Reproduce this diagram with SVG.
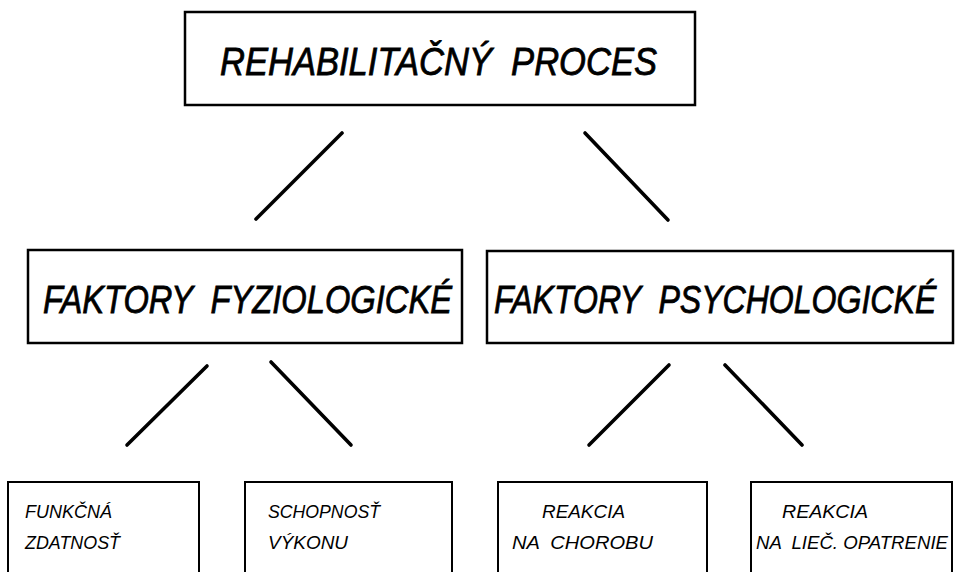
<svg xmlns="http://www.w3.org/2000/svg" width="955" height="572" viewBox="0 0 955 572">
<style>
.box{fill:#fff;stroke:#000;stroke-width:2.5}
.sbox{fill:#fff;stroke:#000;stroke-width:2}
text{white-space:pre}
.big{font-family:"Liberation Sans",Arial,sans-serif;font-style:italic;font-size:39px;fill:#000;stroke:#000;stroke-width:0.8}
.small{font-family:"Liberation Sans",Arial,sans-serif;font-style:italic;font-size:19px;fill:#000}
.conn line{stroke:#000;stroke-width:3.6;stroke-linecap:round}
</style>
<rect width="955" height="572" fill="#fff"/>
<g class="conn" id="connectors">
<line x1="342" y1="133" x2="256" y2="219"/>
<line x1="585" y1="133" x2="668" y2="220"/>
<line x1="207" y1="366" x2="127" y2="445"/>
<line x1="271" y1="362" x2="351" y2="445"/>
<line x1="669" y1="365" x2="589" y2="445"/>
<line x1="725" y1="365" x2="802" y2="445"/>
</g>
<g id="node-root">
<rect class="box" x="185" y="12" width="510" height="93"/>
<text class="big" x="220" y="75" textLength="437" lengthAdjust="spacingAndGlyphs">REHABILITAČNÝ  PROCES</text>
</g>
<g id="node-fyz">
<rect class="box" x="28" y="250" width="434" height="93"/>
<text class="big" x="43" y="313" textLength="409" lengthAdjust="spacingAndGlyphs">FAKTORY  FYZIOLOGICKÉ</text>
</g>
<g id="node-psy">
<rect class="box" x="487" y="251" width="466" height="92"/>
<text class="big" transform="translate(494 313) scale(0.822 1)">FAKTORY  PSYCHOLOGICKÉ</text>
</g>
<g id="node-funkcna">
<rect class="sbox" x="8" y="482" width="191" height="110"/>
<text class="small" x="25" y="518" textLength="87" lengthAdjust="spacingAndGlyphs">FUNKČNÁ</text>
<text class="small" x="25" y="549" textLength="95" lengthAdjust="spacingAndGlyphs">ZDATNOSŤ</text>
</g>
<g id="node-schopnost">
<rect class="sbox" x="245" y="482" width="207" height="110"/>
<text class="small" x="268" y="518" textLength="112" lengthAdjust="spacingAndGlyphs">SCHOPNOSŤ</text>
<text class="small" x="268" y="549" textLength="80" lengthAdjust="spacingAndGlyphs">VÝKONU</text>
</g>
<g id="node-chorobu">
<rect class="sbox" x="498" y="482" width="209" height="110"/>
<text class="small" x="542" y="518" textLength="83" lengthAdjust="spacingAndGlyphs">REAKCIA</text>
<text class="small" x="512" y="549" textLength="141" lengthAdjust="spacingAndGlyphs">NA  CHOROBU</text>
</g>
<g id="node-opatrenie">
<rect class="sbox" x="751" y="482" width="201" height="110"/>
<text class="small" x="782" y="518" textLength="86" lengthAdjust="spacingAndGlyphs">REAKCIA</text>
<text class="small" x="756" y="549" textLength="192" lengthAdjust="spacingAndGlyphs">NA  LIEČ. OPATRENIE</text>
</g>
</svg>
